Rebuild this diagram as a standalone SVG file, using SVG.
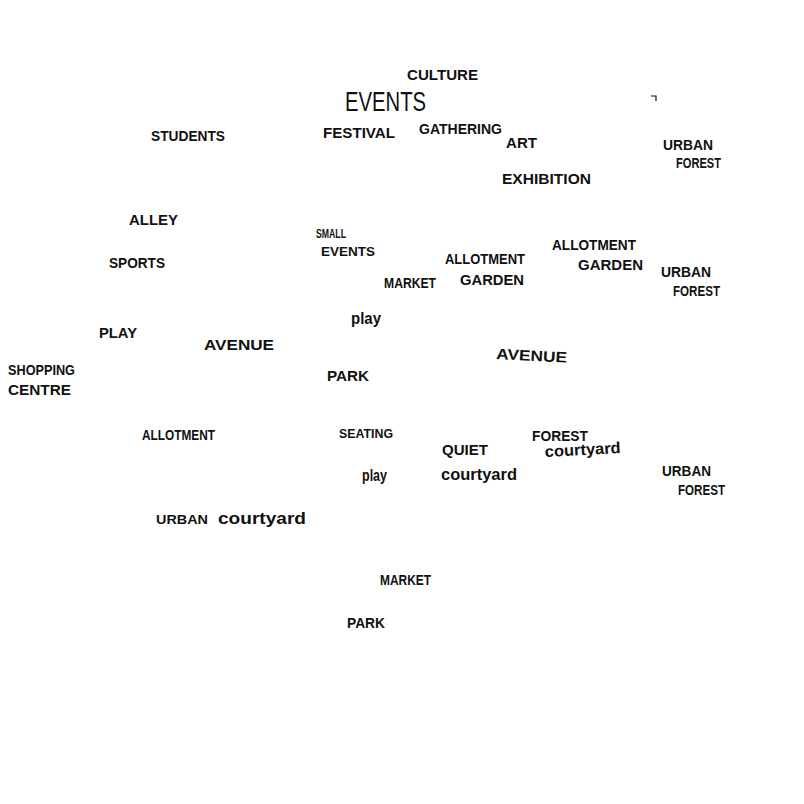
<svg xmlns="http://www.w3.org/2000/svg" width="804" height="804" viewBox="0 0 804 804">
<style>
text{font-family:"Liberation Sans",Arial,sans-serif;font-weight:bold;fill:#111;font-size:15px}
.big{font-weight:normal;font-size:27px}
.lc{font-size:16px}
</style>
<rect width="804" height="804" fill="#fff"/>
<text x="407" y="80" textLength="71" lengthAdjust="spacingAndGlyphs">CULTURE</text>
<text class="big" x="345" y="111" textLength="81" lengthAdjust="spacingAndGlyphs">EVENTS</text>
<path d="M651 96 H656 V101" fill="none" stroke="#111" stroke-width="1.2"/>
<text x="151" y="141" textLength="74" lengthAdjust="spacingAndGlyphs">STUDENTS</text>
<text x="323" y="138" textLength="72" lengthAdjust="spacingAndGlyphs">FESTIVAL</text>
<text x="419" y="134" textLength="83" lengthAdjust="spacingAndGlyphs">GATHERING</text>
<text x="506" y="148" textLength="31" lengthAdjust="spacingAndGlyphs">ART</text>
<text x="502" y="184" textLength="89" lengthAdjust="spacingAndGlyphs">EXHIBITION</text>
<text x="663" y="150" textLength="50" lengthAdjust="spacingAndGlyphs">URBAN</text>
<text x="676" y="168" textLength="45" lengthAdjust="spacingAndGlyphs">FOREST</text>
<text x="129" y="225" textLength="49" lengthAdjust="spacingAndGlyphs">ALLEY</text>
<text x="316" y="238" textLength="30" lengthAdjust="spacingAndGlyphs" style="font-size:13px">SMALL</text>
<text x="321" y="256" textLength="54" lengthAdjust="spacingAndGlyphs" style="font-size:13px">EVENTS</text>
<text x="109" y="268" textLength="56" lengthAdjust="spacingAndGlyphs">SPORTS</text>
<text x="384" y="288" textLength="52" lengthAdjust="spacingAndGlyphs">MARKET</text>
<text x="445" y="264" textLength="80" lengthAdjust="spacingAndGlyphs">ALLOTMENT</text>
<text x="460" y="285" textLength="64" lengthAdjust="spacingAndGlyphs">GARDEN</text>
<text x="552" y="250" textLength="84" lengthAdjust="spacingAndGlyphs">ALLOTMENT</text>
<text x="578" y="270" textLength="65" lengthAdjust="spacingAndGlyphs">GARDEN</text>
<text x="661" y="277" textLength="50" lengthAdjust="spacingAndGlyphs">URBAN</text>
<text x="673" y="296" textLength="47" lengthAdjust="spacingAndGlyphs">FOREST</text>
<text class="lc" x="351" y="324" textLength="30" lengthAdjust="spacingAndGlyphs">play</text>
<text x="99" y="338" textLength="38" lengthAdjust="spacingAndGlyphs">PLAY</text>
<text x="204" y="350" textLength="70" lengthAdjust="spacingAndGlyphs">AVENUE</text>
<text x="496" y="359" textLength="71" lengthAdjust="spacingAndGlyphs" transform="rotate(3 496 359)">AVENUE</text>
<text x="8" y="375" textLength="67" lengthAdjust="spacingAndGlyphs">SHOPPING</text>
<text x="8" y="395" textLength="63" lengthAdjust="spacingAndGlyphs">CENTRE</text>
<text x="327" y="381" textLength="42" lengthAdjust="spacingAndGlyphs">PARK</text>
<text x="142" y="440" textLength="73" lengthAdjust="spacingAndGlyphs">ALLOTMENT</text>
<text x="339" y="438" textLength="54" lengthAdjust="spacingAndGlyphs" style="font-size:13px">SEATING</text>
<text x="442" y="455" textLength="46" lengthAdjust="spacingAndGlyphs">QUIET</text>
<text class="lc" x="441" y="480" textLength="76" lengthAdjust="spacingAndGlyphs">courtyard</text>
<text x="532" y="441" textLength="56" lengthAdjust="spacingAndGlyphs">FOREST</text>
<text class="lc" x="545" y="457" textLength="76" lengthAdjust="spacingAndGlyphs" transform="rotate(-3 545 457)">courtyard</text>
<text class="lc" x="362" y="481" textLength="25" lengthAdjust="spacingAndGlyphs">play</text>
<text x="662" y="476" textLength="49" lengthAdjust="spacingAndGlyphs">URBAN</text>
<text x="678" y="495" textLength="47" lengthAdjust="spacingAndGlyphs">FOREST</text>
<text x="156" y="524" textLength="52" lengthAdjust="spacingAndGlyphs" style="font-size:13px">URBAN</text>
<text class="lc" x="218" y="524" textLength="88" lengthAdjust="spacingAndGlyphs">courtyard</text>
<text x="380" y="585" textLength="51" lengthAdjust="spacingAndGlyphs" style="font-size:14px">MARKET</text>
<text x="347" y="628" textLength="38" lengthAdjust="spacingAndGlyphs" style="font-size:14px">PARK</text>
</svg>
